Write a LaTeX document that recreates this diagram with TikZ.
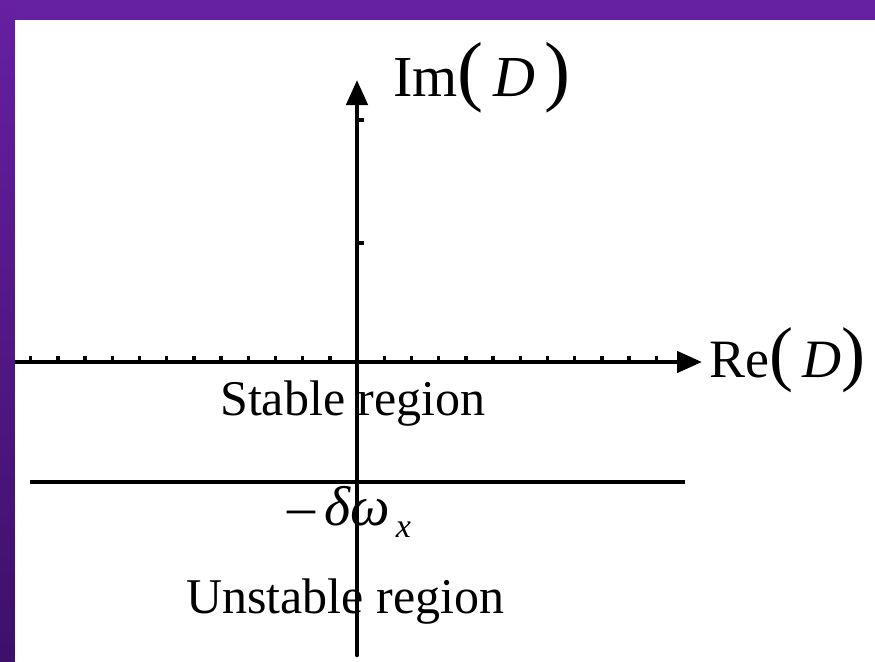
\documentclass[tikz,border=0pt]{standalone}
\usepackage{fontspec}
\setmainfont{Liberation Serif}
\usetikzlibrary{arrows.meta}
\definecolor{Frame}{HTML}{6620A2}
\definecolor{FrameDark}{HTML}{3E106A}
\newcommand\tallparen[1]{{\fontsize{78}{78}\selectfont#1}}
\newcommand\tallerparen[1]{{\fontsize{72}{72}\selectfont#1}}

\begin{document}
\begin{tikzpicture}[x=1pt, y=-1pt,
  axis/.style={line width=4.6pt, -{Triangle[length=25pt,width=21pt]}},
  bound/.style={line width=4pt},
  tick/.style={line width=3.4pt},
  axislabel/.style={inner sep=0pt, anchor=base west, font=\fontsize{58}{62}\selectfont},
  region/.style={inner sep=0pt, anchor=base west, font=\fontsize{50}{54}\selectfont}
]
\useasboundingbox (0,0) rectangle (875,661);
% frame
\fill[Frame] (0,0) rectangle (875,20);
\shade[top color=Frame, bottom color=FrameDark] (0,0) rectangle (15,661);
\fill[white] (15,20) rectangle (875,661);

\coordinate (o) at (357,362);
\coordinate (left) at (15,362);
\coordinate (right) at (702,362);
\coordinate (top) at (357,80);
\coordinate (bottom) at (357,655);
\coordinate (bl) at (30,482);
\coordinate (br) at (685,482);

% ticks
\foreach \k in {-12,...,-1,1,2,...,11}
  \draw[tick] (357+27.2*\k,362) -- ++(0,-6);
\foreach \y in {120,243}
  \draw[tick] (357,\y) -- ++(7,0);

% axes
\draw[axis] (left) -- (right);
\draw[axis, line cap=round] (bottom) -- (top);
\draw[bound] (bl) -- (br);

\node[axislabel] (im) at (393,96) {Im\tallparen{(}\,\textit{D}\,\tallparen{)}};
\node[axislabel, font=\fontsize{54}{58}\selectfont] (re) at (709,377) {Re\tallerparen{(}\,\textit{D}\tallerparen{)}};
\node[region] (stable) at (220,415) {Stable region};
\node[region] (unstable) at (186,613) {Unstable region};
\node[axislabel, font=\fontsize{56}{60}\selectfont] (delta) at (287,525) {\textendash\,\textit{δω}\raisebox{-12pt}{\fontsize{34}{36}\selectfont\,\textit{x}}};
\end{tikzpicture}
\end{document}
